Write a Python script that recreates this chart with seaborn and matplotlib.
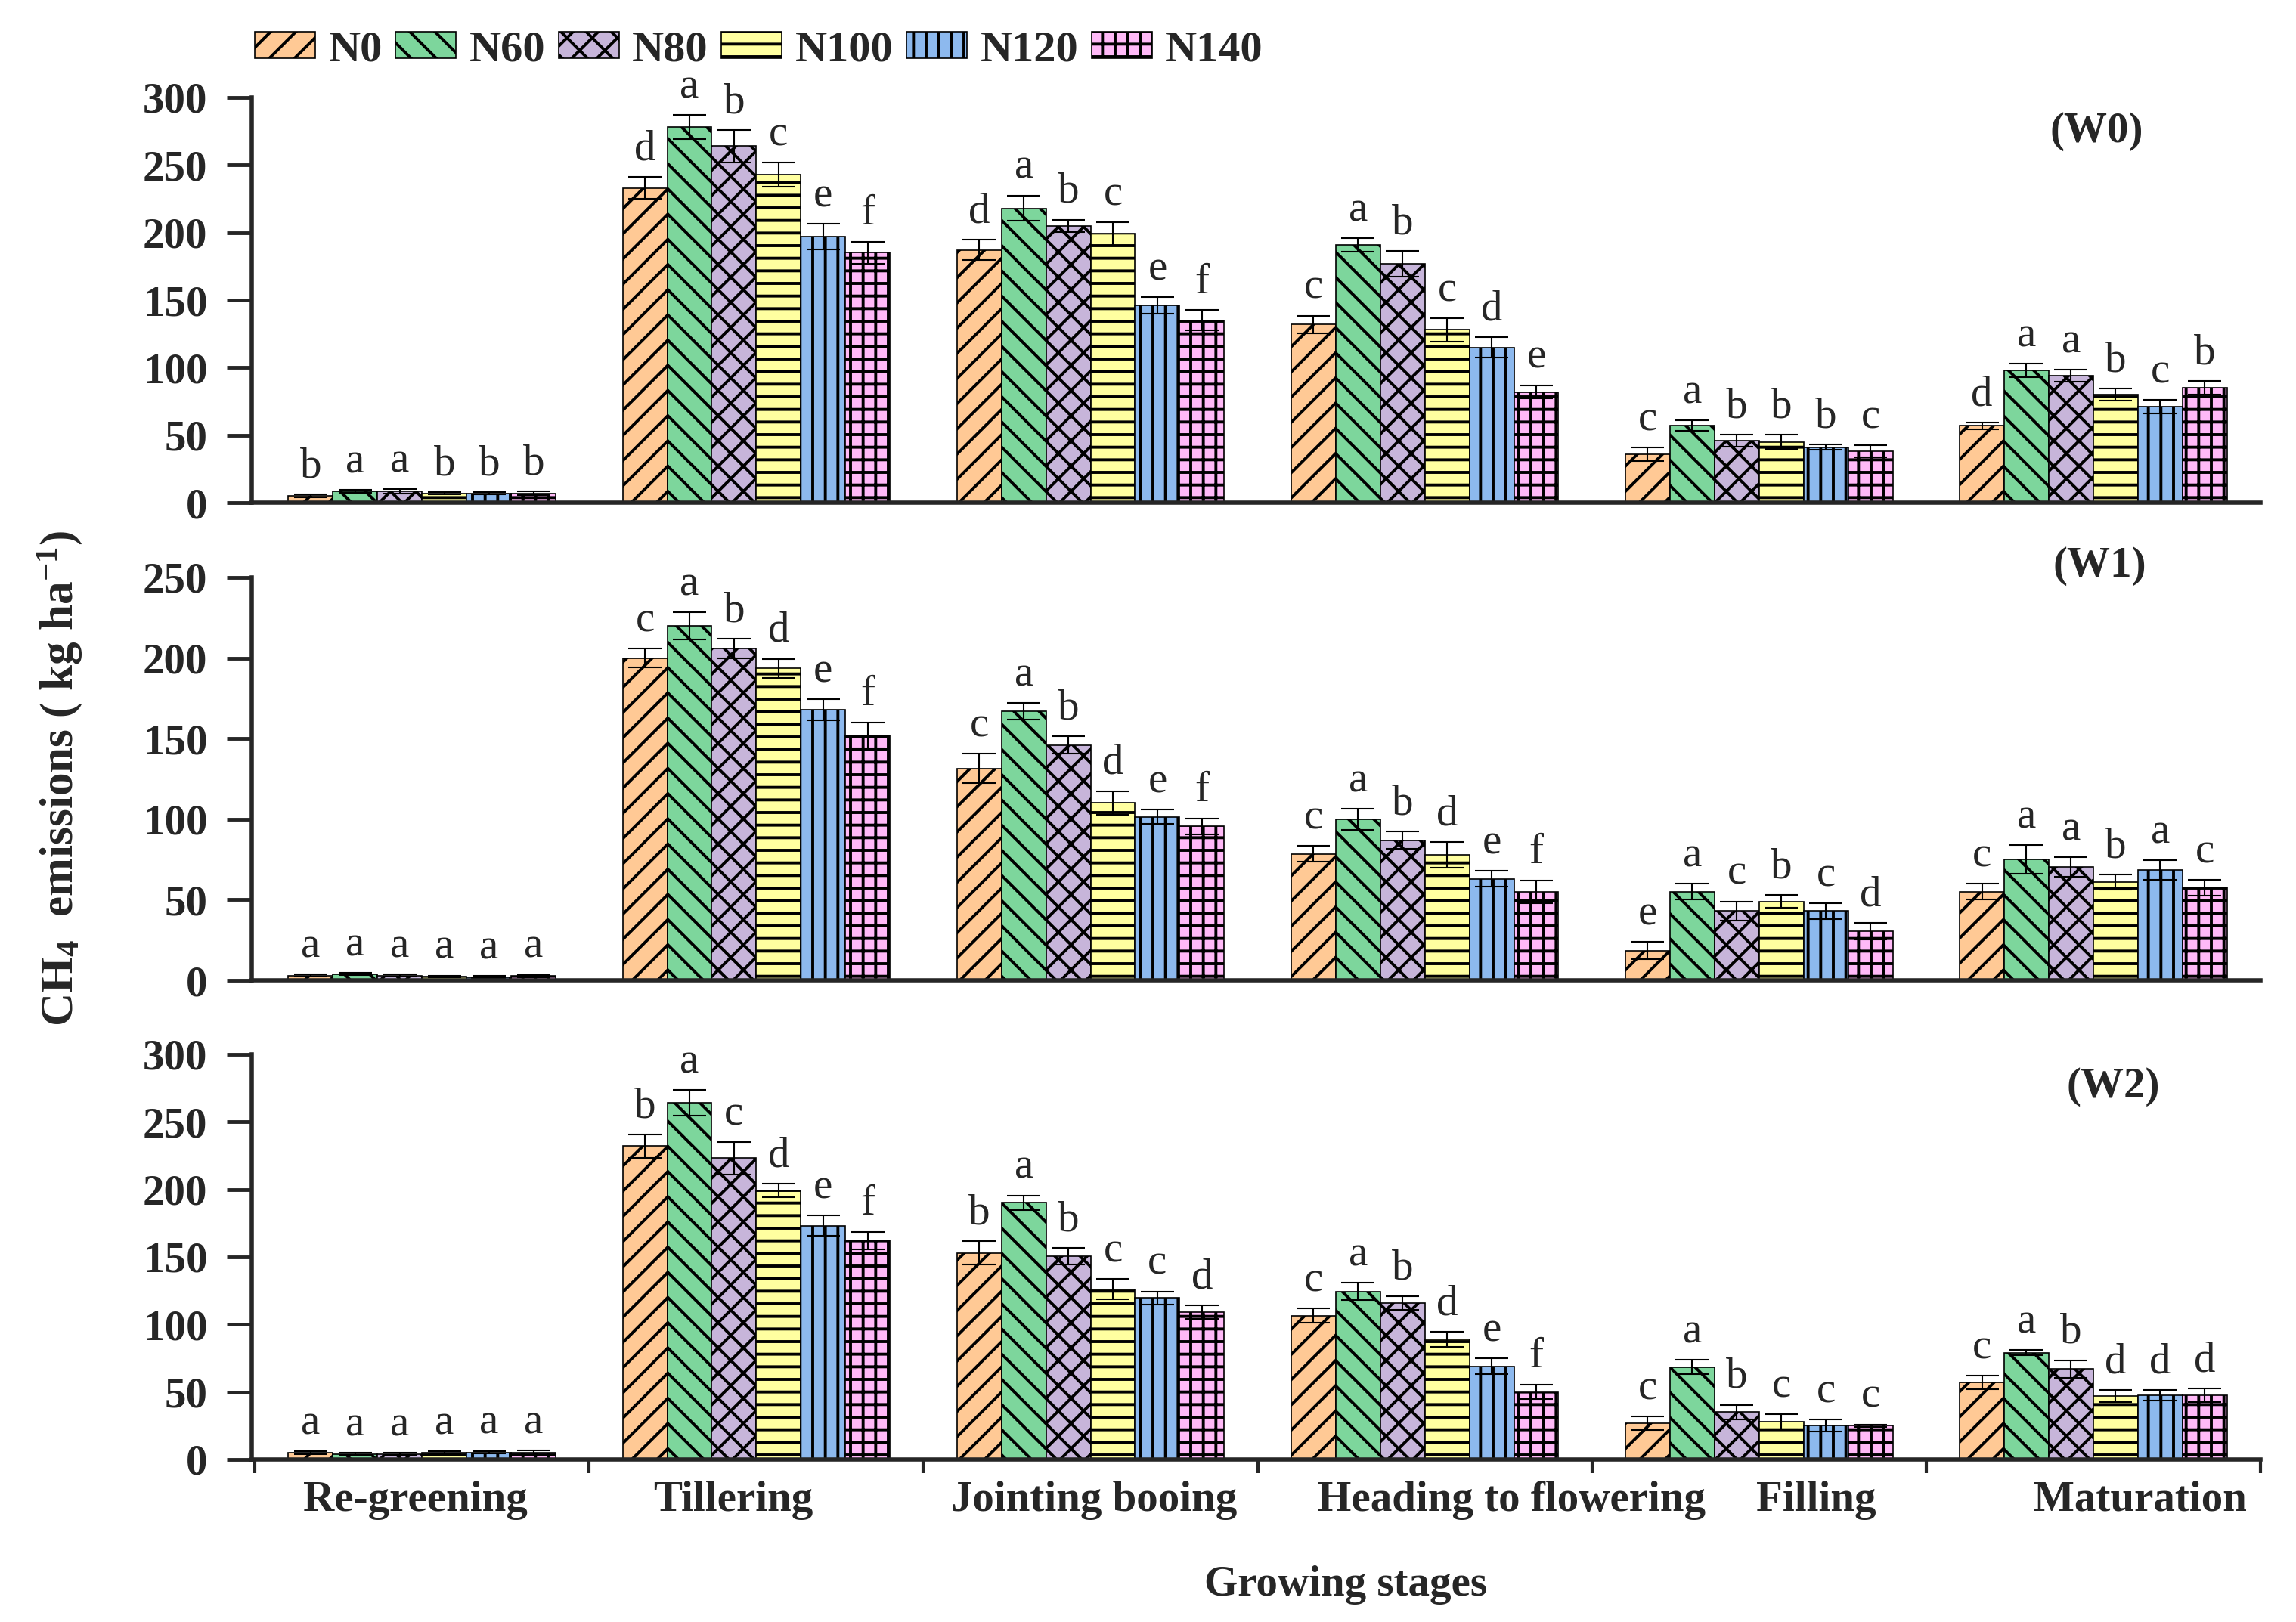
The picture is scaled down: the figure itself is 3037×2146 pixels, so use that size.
import numpy as np
import pandas as pd
import matplotlib
matplotlib.use("Agg")
import matplotlib.pyplot as plt
import seaborn as sns
from matplotlib.patches import Patch

# =============================================================================
# Data: CH4 emissions per growing stage, 3 water levels
# =============================================================================
stages     = ["Re-greening", "Tillering", "Jointing booing",
              "Heading to flowering", "Filling", "Maturation"]
treatments = ["N0", "N60", "N80", "N100", "N120", "N140"]

# one row per stage, one column per N treatment
w0_mean = [[5, 8.5, 8.5, 7, 7, 7],
           [233, 278, 264, 243, 197, 185],
           [187, 218, 205, 199, 146, 135],
           [132, 191, 177, 128, 115, 82],
           [36, 57, 46, 45, 41, 38],
           [57, 98, 94, 80, 71, 85]]
w0_err  = [[1, 1, 1.5, 1, 1, 1.5],
           [8, 9, 12, 9, 9.5, 8],
           [7.5, 9.5, 4.5, 8.5, 6, 7.5],
           [6.5, 5, 9.5, 8.5, 7.5, 5],
           [5, 4, 4.5, 5.5, 2, 4.5],
           [2.5, 5, 4.5, 4.5, 5, 5]]
w0_sig  = [["b", "a", "a", "b", "b", "b"],
           ["d", "a", "b", "c", "e", "f"],
           ["d", "a", "b", "c", "e", "f"],
           ["c", "a", "b", "c", "d", "e"],
           ["c", "a", "b", "b", "b", "c"],
           ["d", "a", "a", "b", "c", "b"]]

w1_mean = [[3, 4, 3, 2.5, 2, 2.7],
           [200, 220, 206, 193.5, 168, 152],
           [131.5, 167, 146, 110, 101.5, 95.5],
           [78.5, 100, 87, 78, 63, 55],
           [18.5, 55, 43, 49, 43, 30.5],
           [55, 75, 70.5, 61, 68.5, 57.5]]
w1_err  = [[0.8, 0.8, 0.8, 0.5, 0.6, 0.8],
           [6, 8.5, 6, 6, 6.5, 8],
           [9, 5, 5.5, 7.5, 4.5, 5],
           [5, 6.5, 5.5, 8, 5, 7],
           [5.5, 5, 6, 4, 5, 5],
           [5, 9, 6, 4.5, 6, 5]]
w1_sig  = [["a", "a", "a", "a", "a", "a"],
           ["c", "a", "b", "d", "e", "f"],
           ["c", "a", "b", "d", "e", "f"],
           ["c", "a", "b", "d", "e", "f"],
           ["e", "a", "c", "b", "c", "d"],
           ["c", "a", "a", "b", "a", "c"]]

w2_mean = [[4.9, 4, 4, 5, 5.3, 5],
           [232, 264, 223, 199, 173, 162],
           [153, 190, 150.5, 126, 119.5, 109],
           [106.5, 124.5, 116, 89, 69, 50],
           [27, 68.5, 35, 28, 25, 25],
           [57, 79, 67, 47, 47.5, 47.5]]
w2_err  = [[1, 0.8, 0.8, 1, 1, 1.6],
           [8.5, 9.5, 12, 5, 7.5, 6.5],
           [8.5, 5.5, 6, 7.5, 5, 5],
           [5.5, 6.5, 5, 5.5, 6, 5.5],
           [5, 5.5, 5.5, 5.5, 4.5, 1],
           [5, 2, 6.5, 4.5, 4, 5]]
w2_sig  = [["a", "a", "a", "a", "a", "a"],
           ["b", "a", "c", "d", "e", "f"],
           ["b", "a", "b", "c", "c", "d"],
           ["c", "a", "b", "d", "e", "f"],
           ["c", "a", "b", "c", "c", "c"],
           ["c", "a", "b", "d", "d", "d"]]

panel_names = ["(W0)", "(W1)", "(W2)"]
panel_ymax  = [300, 250, 300]

# ── styling ──────────────────────────────────────────────────────────────────
colors  = ["#FFC995", "#7DD69C", "#C7B5DA", "#FFFFA0", "#8DB9EE", "#FFB9F7"]
hatches = ["/", "\\", "x", "-", "|", "+"]
label_x = [-0.02, 0.93, 2.01, 3.26, 4.17, 5.14]   # hand-placed stage labels
tag_xy  = [(5.01, 275), (5.02, 257), (5.06, 276)]  # (W*) positions

sns.set_theme(style="ticks")
plt.rcParams["font.family"] = ["Liberation Serif", "DejaVu Serif"]
plt.rcParams["mathtext.fontset"] = "custom"
plt.rcParams["mathtext.rm"] = "Liberation Serif"
plt.rcParams["mathtext.bf"] = "Liberation Serif:bold"
plt.rcParams["mathtext.default"] = "bf"
plt.rcParams["hatch.linewidth"] = 2.8
plt.rcParams["hatch.color"] = "black"

FS = 41

fig = plt.figure(figsize=(30.37, 21.46), dpi=100)
left, width = 0.1096, 0.8749
boxes = [(0.6901, 0.2498), (0.3956, 0.2484), (0.1002, 0.2498)]

panels = [(w0_mean, w0_err, w0_sig),
          (w1_mean, w1_err, w1_sig),
          (w2_mean, w2_err, w2_sig)]

axes = []
for k, (means, errs, sigs) in enumerate(panels):
    ax = fig.add_axes([left, boxes[k][0], width, boxes[k][1]])
    axes.append(ax)

    df = pd.DataFrame({
        "stage"    : np.repeat(stages, len(treatments)),
        "treatment": treatments * len(stages),
        "value"    : np.ravel(means),
        "err"      : np.ravel(errs),
        "sig"      : np.ravel(sigs),
    })

    sns.barplot(data=df, x="stage", y="value", hue="treatment",
                order=stages, hue_order=treatments,
                palette=dict(zip(treatments, colors)),
                errorbar=None, width=0.8, saturation=1,
                edgecolor="black", linewidth=1.2, legend=False, ax=ax)

    ymax = panel_ymax[k]
    off = ymax * 0.02
    bar_conts = list(ax.containers)
    for j, cont in enumerate(bar_conts):
        sub = df[df["treatment"] == treatments[j]].set_index("stage").loc[stages]
        xs = []
        for bar in cont:
            bar.set_hatch(hatches[j])
            xs.append(bar.get_x() + bar.get_width() / 2)
        xs = np.array(xs)
        ax.errorbar(xs, sub["value"], yerr=sub["err"], fmt="none",
                    ecolor="black", elinewidth=1.5, capsize=16, capthick=1.5)
        for x, v, e, s in zip(xs, sub["value"], sub["err"], sub["sig"]):
            ax.text(x, v + e + off, s, ha="center", va="bottom",
                    fontsize=FS, clip_on=False)

    ax.set_xlim(-0.51, 5.5)
    ax.set_ylim(0, ymax)
    ax.set_yticks(np.arange(0, ymax + 1, 50))
    ax.set_xlabel("")
    ax.set_ylabel("")
    sns.despine(ax=ax)
    ax.spines["left"].set_linewidth(4)
    ax.spines["bottom"].set_linewidth(4)
    ax.tick_params(axis="y", direction="out", length=24, width=3.5,
                   pad=18, labelsize=FS)
    for t in ax.get_yticklabels():
        t.set_fontweight("bold")

    tx, ty = tag_xy[k]
    ax.text(tx, ty, panel_names[k], ha="center", va="center",
            fontsize=FS, fontweight="bold", clip_on=False)

    if k < 2:
        ax.set_xticks([])
    else:
        ax.set_xticks(label_x)
        ax.set_xticklabels(stages, fontsize=FS, fontweight="bold")
        ax.set_xticks(np.arange(-0.5, 6, 1), minor=True)
        ax.tick_params(axis="x", which="major", length=0, pad=20)
        ax.tick_params(axis="x", which="minor", direction="out",
                       length=13, width=3)

# ── legend, shared labels ────────────────────────────────────────────────────
handles = [Patch(facecolor=c, edgecolor="black", hatch=h, linewidth=1.2)
           for c, h in zip(colors, hatches)]
fig.legend(handles, treatments, loc="center left",
           bbox_to_anchor=(0.111, 0.969), ncol=6, frameon=False,
           prop={"size": FS + 1, "weight": "bold"},
           handlelength=1.37, handleheight=0.55, handletextpad=0.3,
           columnspacing=0.3, borderpad=0, borderaxespad=0)

fig.text(0.026, 0.52, "CH$_4$  emissions ( kg ha$^{-1}$)", rotation=90,
         ha="center", va="center", fontsize=FS + 3, fontweight="bold")
fig.text(0.586, 0.023, "Growing stages", ha="center", va="center",
         fontsize=FS, fontweight="bold")

fig.savefig("out.png", dpi=100)
plt.close(fig)
